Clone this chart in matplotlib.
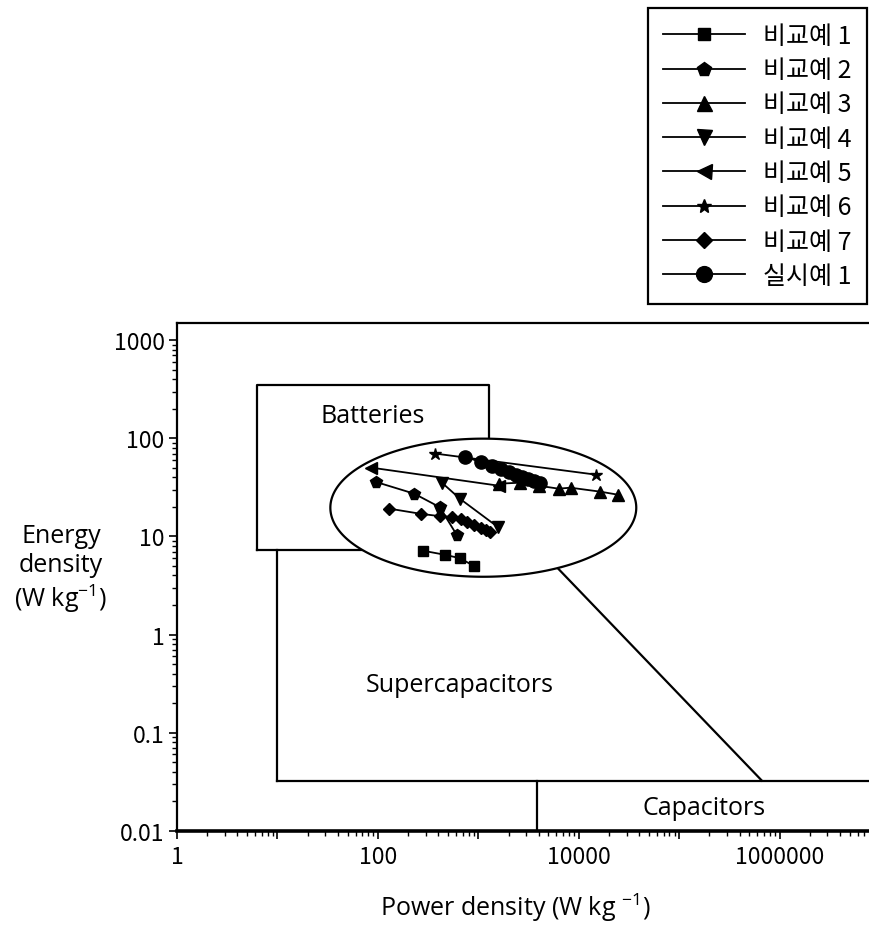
import numpy as np
import matplotlib
matplotlib.use('Agg')
import matplotlib.pyplot as plt
from matplotlib.ticker import LogLocator, NullFormatter, FuncFormatter

plt.rcParams['font.family'] = ['Open Sans', 'Noto Sans CJK KR', 'DejaVu Sans']
plt.rcParams['mathtext.fontset'] = 'custom'
plt.rcParams['mathtext.rm'] = 'Open Sans'
plt.rcParams['mathtext.it'] = 'Open Sans'
plt.rcParams['mathtext.bf'] = 'Open Sans'

# ---------------- data ----------------
labels = ['비교예 1', '비교예 2', '비교예 3', '비교예 4', '비교예 5', '비교예 6', '비교예 7', '실시예 1']
markers = ['s', 'p', '^', 'v', '<', '*', 'D', 'o']
msizes = [7.5, 8.5, 9, 9, 9, 9, 6.5, 9.5]

x_c1 = [282, 466, 657, 904]
y_c1 = [7.15, 6.5, 6.0, 5.0]
x_c2 = [96, 230, 413, 609]
y_c2 = [35.9, 27.3, 19.9, 10.4]
x_c3 = [1600, 2590, 3990, 6300, 8300, 16450, 24800]
y_c3 = [34.5, 35.3, 32.9, 30.7, 31.4, 28.6, 26.6]
x_c4 = [435, 657, 1564]
y_c4 = [35.3, 24.2, 12.5]
x_c5 = [86, 1600]
y_c5 = [50.3, 32.9]
x_c6 = [371, 14700]
y_c6 = [70, 42.7]
x_c7 = [130, 268, 413, 543, 667, 776, 904, 1054, 1181, 1294]
y_c7 = [19.2, 17.0, 16.1, 15.8, 14.9, 14.0, 13.1, 12.2, 11.5, 11.1]
x_e1 = [736, 1061, 1365, 1676, 2013, 2362, 2709, 3105, 3562, 4084]
y_e1 = [65.2, 57.1, 52.1, 48.4, 45.3, 42.7, 40.7, 38.7, 36.9, 35.1]

series_x = [x_c1, x_c2, x_c3, x_c4, x_c5, x_c6, x_c7, x_e1]
series_y = [y_c1, y_c2, y_c3, y_c4, y_c5, y_c6, y_c7, y_e1]

# region outlines (data units)
batt_x = [6.31, 1290]
batt_y = [7.24, 353]
sc_left_x = 10
sc_bottom_y = 0.0324
diag_x = [2000, 666000]
diag_y = [15.8, 0.0324]
cap_left_x = 3826
ell_center_log = (3.05, 1.293)
ell_half_log = (1.523, 0.704)

xticks_labeled = [1, 100, 10000, 1000000]

# ---------------- figure ----------------
W, H = 869, 929
fig = plt.figure(figsize=(W / 100, H / 100), dpi=100)
ax = fig.add_axes([177 / W, (H - 831.7) / H, 703 / W, (831.7 - 324) / H])
ax.set_xscale('log')
ax.set_yscale('log')
ax.set_xlim(1, 1e7)
ax.set_ylim(0.01, 1500)

# region boxes
bx = [batt_x[0], batt_x[1], batt_x[1], batt_x[0], batt_x[0]]
by = [batt_y[0], batt_y[0], batt_y[1], batt_y[1], batt_y[0]]
ax.plot(bx, by, color='black', lw=1.6, zorder=1)
ax.plot([sc_left_x, sc_left_x], [batt_y[0], sc_bottom_y], color='black', lw=1.6, zorder=1)
ax.plot([sc_left_x, 1e8], [sc_bottom_y, sc_bottom_y], color='black', lw=1.6, zorder=1)
ax.plot(diag_x, diag_y, color='black', lw=1.6, zorder=1)
ax.plot([cap_left_x, cap_left_x], [sc_bottom_y, 0.01], color='black', lw=1.6, zorder=1)

t = np.linspace(0, 2 * np.pi, 400)
ex = 10 ** (ell_center_log[0] + ell_half_log[0] * np.cos(t))
ey = 10 ** (ell_center_log[1] + ell_half_log[1] * np.sin(t))
ax.fill(ex, ey, facecolor='white', edgecolor='black', lw=1.6, zorder=2)

handles = []
for xs, ys, m, ms, lab in zip(series_x, series_y, markers, msizes, labels):
    h, = ax.plot(xs, ys, color='black', marker=m, markersize=ms, lw=1.3,
                 markerfacecolor='black', markeredgecolor='black', label=lab, zorder=3)
    handles.append(h)

ax.text(89.6, 148, 'Batteries', fontsize=18, ha='center', va='baseline')
ax.text(659, 0.267, 'Supercapacitors', fontsize=18, ha='center', va='baseline')
ax.text(177000, 0.0148, 'Capacitors', fontsize=18, ha='center', va='baseline')

# ticks
tick_family = ['Noto Sans CJK KR', 'DejaVu Sans']
def fmt(v, pos):
    if v >= 1:
        return str(int(round(v)))
    return f'{v:g}'
def fmtx(v, pos):
    if any(abs(v - k) / k < 1e-6 for k in xticks_labeled):
        return str(int(round(v)))
    return ''
ax.xaxis.set_major_locator(LogLocator(base=10, numticks=20))
ax.xaxis.set_minor_locator(LogLocator(base=10, subs=np.arange(2, 10), numticks=20))
ax.xaxis.set_major_formatter(FuncFormatter(fmtx))
ax.xaxis.set_minor_formatter(NullFormatter())
ax.yaxis.set_major_locator(LogLocator(base=10, numticks=20))
ax.yaxis.set_minor_locator(LogLocator(base=10, subs=np.arange(2, 10), numticks=20))
ax.yaxis.set_major_formatter(FuncFormatter(fmt))
ax.yaxis.set_minor_formatter(NullFormatter())
ax.tick_params(which='major', direction='out', length=6, width=1.2)
ax.tick_params(axis='y', which='major', pad=3)
ax.tick_params(axis='x', which='major', pad=4)
ax.tick_params(which='minor', direction='out', length=3.5, width=1.0)
for lbl in ax.get_xticklabels() + ax.get_yticklabels():
    lbl.set_fontfamily(tick_family)
    lbl.set_fontsize(16.5)

ax.spines['bottom'].set_linewidth(2.6)
ax.spines['left'].set_linewidth(1.6)
ax.spines['top'].set_linewidth(1.6)
ax.spines['right'].set_visible(False)

# axis labels
fig.text(515.5 / W, 1 - 916 / H, 'Power density (W kg $^{-1}$)', fontsize=18, ha='center', va='baseline')
fig.text(61 / W, 1 - 543 / H, 'Energy', fontsize=18, ha='center', va='baseline')
fig.text(61 / W, 1 - 572 / H, 'density', fontsize=18, ha='center', va='baseline')
fig.text(61 / W, 1 - 607 / H, '(W kg$^{-1}$)', fontsize=18, ha='center', va='baseline')

leg = fig.legend(handles=handles, labels=labels, loc='upper right',
                 bbox_to_anchor=(867 / W, 1 - 9 / H), bbox_transform=fig.transFigure,
                 borderaxespad=0,
                 prop={'family': ['Noto Sans CJK KR', 'DejaVu Sans'], 'size': 18},
                 handlelength=3.3, handletextpad=0.72, labelspacing=0.33,
                 borderpad=0.6, markerscale=1.2, fancybox=False, framealpha=1,
                 edgecolor='black')
leg.get_frame().set_linewidth(1.6)

fig.savefig('out.png', dpi=100)
